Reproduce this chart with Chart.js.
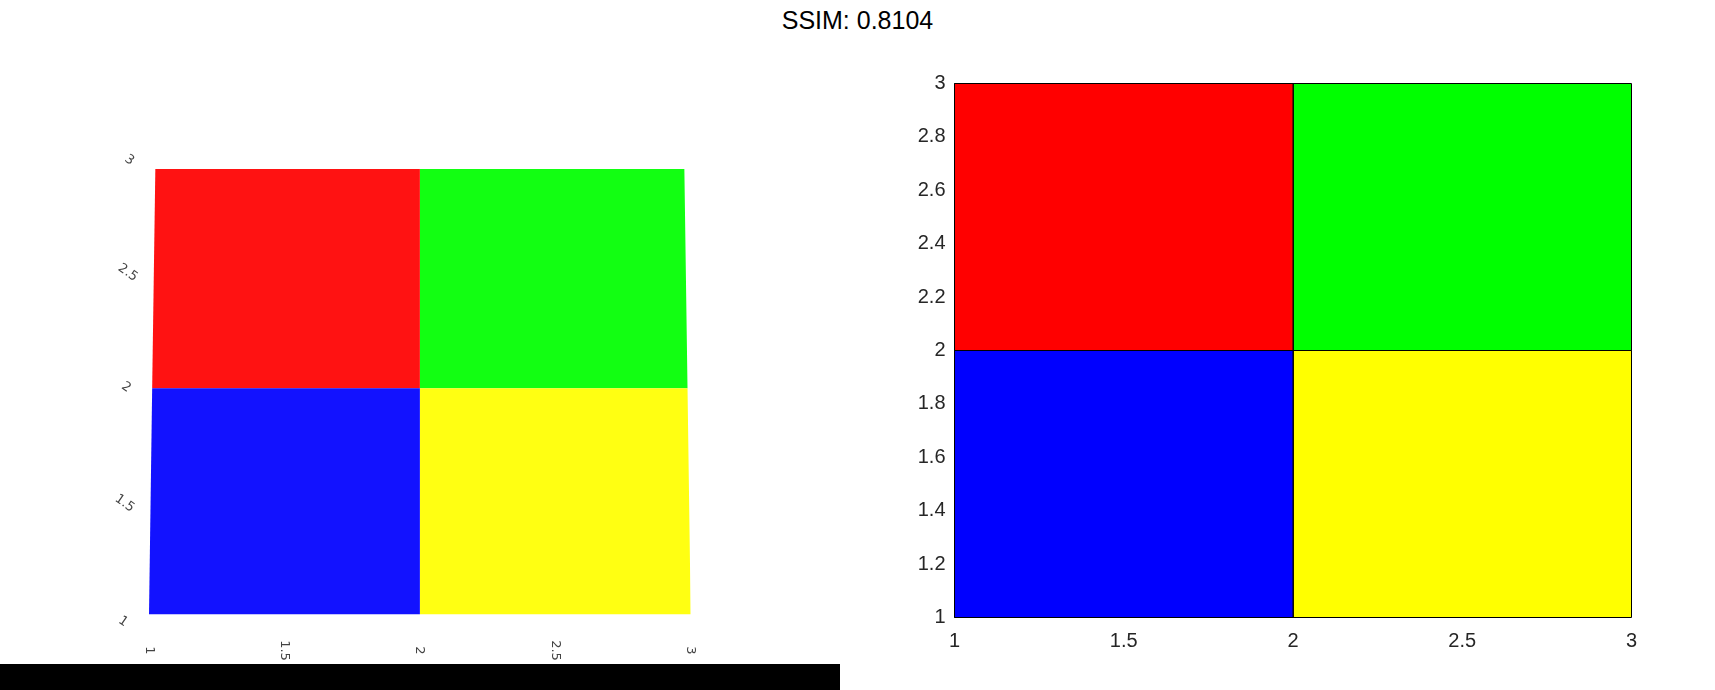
<!DOCTYPE html>
<html>
<head>
<meta charset="utf-8">
<script src="https://cdn.jsdelivr.net/npm/chart.js@4.4.1/dist/chart.umd.min.js"></script>
<style>
  html, body { margin: 0; padding: 0; background: #fff; }
  body { width: 1715px; height: 690px; position: relative; overflow: hidden; font-family: "Liberation Sans", Arial, sans-serif; }
  #title { position: absolute; left: 0; top: 5px; width: 1715px; text-align: center; font-size: 25px; line-height: 30px; color: #000; }
  .panel { position: absolute; top: 0; height: 690px; }
  #left { left: 0; width: 857px; }
  #right { left: 860px; width: 855px; }
  #strip { position: absolute; left: 0; top: 664px; width: 840px; height: 26px; background: #000; }
</style>
</head>
<body>
<div id="title">SSIM: 0.8104</div>
<div class="panel" id="left"><canvas id="warped-chart"></canvas></div>
<div class="panel" id="right"><canvas id="image-chart"></canvas></div>
<div id="strip"></div>
<script>
// 2x2 image: cell edges and colours, rows from bottom (y=1) to top (y=3)
const xEdges = [1, 2, 3];
const yEdges = [1, 2, 3];
const cellColors = [
  ["#0000ff", "#ffff00"],
  ["#ff0000", "#00ff00"],
];
const warpedColors = [
  ["#1212ff", "#ffff12"],
  ["#ff1212", "#12ff12"],
];
const warpedTicks = [1, 1.5, 2, 2.5, 3];
const warpedTickLabels = ["1", "1.5", "2", "2.5", "3"];
const xTicks = [1, 1.5, 2, 2.5, 3];
const yTicks = [1, 1.2, 1.4, 1.6, 1.8, 2, 2.2, 2.4, 2.6, 2.8, 3];

// slight perspective of the left view: top edge narrower, upper half foreshortened
const view = { shrinkTop: 0.0234, bow: 0.031 };
function warp(x, y) {
  const u = (x - 1) / 2;
  const v = (y - 1) / 2;
  const vs = (1 + view.bow) * v - view.bow * v * v;
  const us = 0.5 + (u - 0.5) * (1 - view.shrinkTop * v);
  return { x: 1 + 2 * us, y: 1 + 2 * vs };
}
const identity = (x, y) => ({ x, y });

function cellDatasets(colors, map, border) {
  const sets = [];
  for (let r = 0; r < yEdges.length - 1; r++) {
    for (let c = 0; c < xEdges.length - 1; c++) {
      const x0 = xEdges[c], x1 = xEdges[c + 1];
      const y0 = yEdges[r], y1 = yEdges[r + 1];
      sets.push({
        data: [map(x0, y0), map(x1, y0), map(x1, y1), map(x0, y1), map(x0, y0)],
        showLine: true,
        fill: "shape",
        clip: 4,
        backgroundColor: colors[r][c],
        borderColor: border ? "#000" : "rgba(0,0,0,0)",
        borderWidth: border ? 1 : 0,
        pointRadius: 0,
        tension: 0,
      });
    }
  }
  return sets;
}

const warpLabels = {
  id: "warpLabels",
  afterDraw(chart) {
    const { ctx } = chart;
    const { x, y } = chart.scales;
    ctx.save();
    ctx.font = '13px "DejaVu Sans"';
    ctx.fillStyle = "#444";
    ctx.textAlign = "center";
    ctx.textBaseline = "middle";
    warpedTicks.forEach((val, i) => {
      const label = warpedTickLabels[i];
      const p = warp(val, 1);
      ctx.save();
      ctx.translate(x.getPixelForValue(p.x), y.getPixelForValue(p.y) + 36);
      ctx.rotate(Math.PI / 2);
      ctx.fillText(label, 0, 0);
      ctx.restore();

      const q = warp(1, val);
      const v = (val - 1) / 2;
      ctx.save();
      ctx.translate(x.getPixelForValue(q.x) - 26, y.getPixelForValue(q.y) + 7 - 16 * v);
      ctx.rotate((35 * Math.PI) / 180);
      ctx.fillText(label, 0, 0);
      ctx.restore();
    });
    ctx.restore();
  },
};

new Chart(document.getElementById("warped-chart"), {
  type: "scatter",
  data: { datasets: cellDatasets(warpedColors, warp, false) },
  options: {
    responsive: true,
    maintainAspectRatio: false,
    animation: false,
    layout: { padding: { left: 149, right: 166.3, top: 169, bottom: 75.5 } },
    plugins: { legend: { display: false }, tooltip: { enabled: false } },
    scales: {
      x: { type: "linear", min: 1, max: 3, display: false },
      y: { type: "linear", min: 1, max: 3, display: false },
    },
  },
  plugins: [warpLabels],
});

const tickFont = { family: '"Liberation Sans", Arial, sans-serif', size: 20 };
new Chart(document.getElementById("image-chart"), {
  type: "scatter",
  data: { datasets: cellDatasets(cellColors, identity, true) },
  options: {
    responsive: true,
    maintainAspectRatio: false,
    animation: false,
    layout: { padding: { left: 34.5, right: 83.5, top: 83.5, bottom: 32.5 } },
    plugins: { legend: { display: false }, tooltip: { enabled: false } },
    scales: {
      x: {
        type: "linear",
        min: 1,
        max: 3,
        afterBuildTicks: (scale) => { scale.ticks = xTicks.map((value) => ({ value })); },
        afterFit: (scale) => { scale.height = 40; },
        grid: { display: false, drawTicks: false },
        border: { display: false },
        ticks: { padding: 12, font: tickFont, color: "#262626", maxRotation: 0, autoSkip: false, callback: (v) => String(v) },
      },
      y: {
        type: "linear",
        min: 1,
        max: 3,
        afterBuildTicks: (scale) => { scale.ticks = yTicks.map((value) => ({ value })); },
        afterFit: (scale) => { scale.width = 60; },
        grid: { display: false, drawTicks: false },
        border: { display: false },
        ticks: { padding: 9, font: tickFont, color: "#262626", autoSkip: false, callback: (v) => String(v) },
      },
    },
  },
});
</script>
</body>
</html>
